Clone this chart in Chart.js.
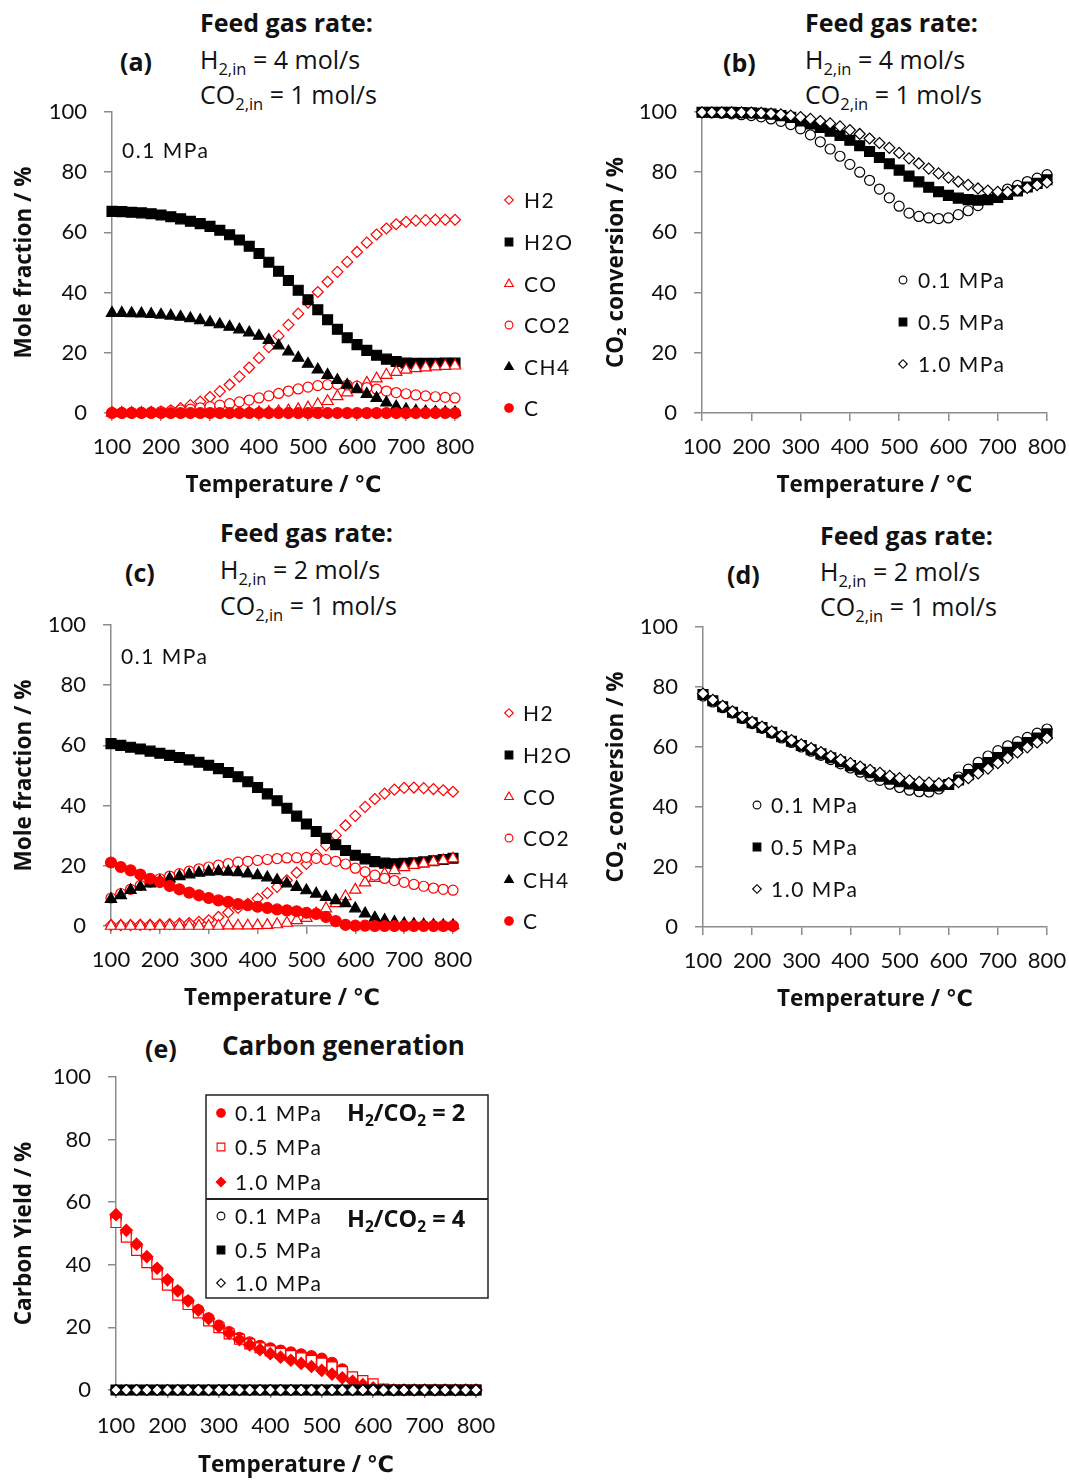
<!DOCTYPE html>
<html>
<head>
<meta charset="utf-8">
<script src="https://cdn.jsdelivr.net/npm/chart.js@4.4.0/dist/chart.umd.min.js"></script>
<style>
  body { margin: 0; background: #fff; width: 1069px; height: 1481px; position: relative; overflow: hidden;
         font-family: "Open Sans", "DejaVu Sans", sans-serif; color: #111; }
  .box { position: absolute; }
  .t { position: absolute; white-space: nowrap; font-size: 25px; line-height: 28px; }
  .b { font-weight: bold; font-size: 25px; }
  .s { font-size: 16.5px; position: relative; top: 6px; }
  .big { font-size: 26px; }
  .lg { font-size: 23.5px; }
  .lg .s { font-size: 15.5px; top: 5px; }
</style>
</head>
<body>

<div class="t b" style="left:200px;top:8px">Feed gas rate:</div>
<div class="t b" style="left:120px;top:47px">(a)</div>
<div class="t" style="left:200px;top:45px">H<span class="s">2,in</span> = 4 mol/s</div>
<div class="t" style="left:200px;top:80px">CO<span class="s">2,in</span> = 1 mol/s</div>

<div class="t b" style="left:805px;top:8px">Feed gas rate:</div>
<div class="t b" style="left:723px;top:48px">(b)</div>
<div class="t" style="left:805px;top:45px">H<span class="s">2,in</span> = 4 mol/s</div>
<div class="t" style="left:805px;top:80px">CO<span class="s">2,in</span> = 1 mol/s</div>

<div class="t b" style="left:220px;top:518px">Feed gas rate:</div>
<div class="t b" style="left:125px;top:558px">(c)</div>
<div class="t" style="left:220px;top:555px">H<span class="s">2,in</span> = 2 mol/s</div>
<div class="t" style="left:220px;top:591px">CO<span class="s">2,in</span> = 1 mol/s</div>

<div class="t b" style="left:820px;top:521px">Feed gas rate:</div>
<div class="t b" style="left:727px;top:560px">(d)</div>
<div class="t" style="left:820px;top:557px">H<span class="s">2,in</span> = 2 mol/s</div>
<div class="t" style="left:820px;top:592px">CO<span class="s">2,in</span> = 1 mol/s</div>

<div class="t b" style="left:145px;top:1034px">(e)</div>
<div class="t b big" style="left:222px;top:1031px">Carbon generation</div>

<script>
// temperature grid (°C)
const temps = [100,120,140,160,180,200,220,240,260,280,300,320,340,360,380,400,420,440,
               460,480,500,520,540,560,580,600,620,640,660,680,700,720,740,760,780,800];

// (a) mole fraction, H2/CO2 = 4, 0.1 MPa
const speciesLabels = ['H2','H2O','CO','CO2','CH4','C'];
const a_H2  = [0.1,0.1,0.1,0.1,0.3,0.5,0.9,1.6,2.6,3.8,5.3,7.2,9.4,12.1,15.1,18.3,21.9,25.6,
               29.3,33.0,36.7,40.2,43.6,46.9,50.2,53.5,56.6,59.3,61.3,62.7,63.5,63.9,64.1,64.2,64.2,64.2];
const a_H2O = [67.0,66.9,66.7,66.5,66.2,65.8,65.2,64.5,63.7,62.9,62.0,60.7,59.2,57.5,55.4,53.0,50.1,47.1,
               44.0,40.8,37.6,34.3,31.0,27.8,25.0,22.7,20.8,19.2,17.9,17.1,16.6,16.5,16.5,16.5,16.6,16.6];
const a_CO  = [0,0,0,0,0,0,0,0,0,0,0,0,0,0.1,0.1,0.2,0.3,0.5,
               0.8,1.2,1.8,2.8,3.9,5.5,6.8,8.6,10.0,11.4,12.6,13.6,14.3,14.8,15.1,15.4,15.6,15.7];
const a_CO2 = [0.1,0.1,0.1,0.2,0.3,0.5,0.7,1.0,1.3,1.7,2.1,2.6,3.1,3.7,4.3,5.0,5.7,6.5,
               7.3,8.0,8.6,9.1,9.4,9.5,9.3,8.9,8.4,7.9,7.3,6.8,6.4,6.0,5.7,5.4,5.2,5.0];
const a_CH4 = [33.2,33.2,33.1,33.0,32.8,32.6,32.3,31.9,31.4,30.8,30.1,29.4,28.6,27.7,26.7,25.6,24.2,22.4,
               20.4,18.3,16.3,14.4,12.6,10.9,9.3,7.8,6.3,4.9,3.4,2.1,1.2,0.7,0.4,0.3,0.2,0.2];
const a_C   = [0,0,0,0,0,0,0,0,0,0,0,0,0,0,0,0,0,0,
               0,0,0,0,0,0,0,0,0,0,0,0,0,0,0,0,0,0];

// (b) CO2 conversion, H2/CO2 = 4
const pressureLabels = ['0.1 MPa','0.5 MPa','1.0 MPa'];
const b_01 = [99.8,99.7,99.6,99.4,99.1,98.8,98.4,97.7,96.9,95.8,94.4,92.4,90.1,87.7,85.3,82.6,80.0,77.3,
              74.4,71.5,68.7,66.4,65.3,64.8,64.6,64.8,65.9,67.2,68.9,70.9,72.8,74.4,75.6,76.9,78.0,79.2];
const b_05 = [99.9,99.9,99.9,99.9,99.8,99.7,99.6,99.3,98.8,98.2,97.0,96.0,94.9,93.6,92.2,90.6,88.8,86.9,
              84.9,82.8,80.7,78.7,76.8,75.0,73.5,72.3,71.4,70.9,70.7,70.9,71.6,72.6,73.8,75.1,76.3,77.5];
const b_10 = [99.9,99.9,99.9,99.9,99.9,99.8,99.7,99.5,99.2,98.8,98.3,97.7,97.0,96.2,95.2,94.0,92.7,91.2,
              89.7,88.1,86.4,84.6,82.9,81.2,79.6,78.2,76.9,75.8,74.6,73.9,73.5,73.4,74.0,74.8,75.7,76.6];

// (c) mole fraction, H2/CO2 = 2, 0.1 MPa
const c_H2  = [0.3,0.3,0.3,0.4,0.4,0.5,0.6,0.8,1.0,1.4,1.9,3.0,4.5,6.0,7.4,9.1,10.9,13.0,
               15.2,17.7,20.6,23.7,26.8,30.1,33.4,36.6,39.6,42.2,44.0,45.3,45.9,46.0,45.8,45.5,45.1,44.6];
const c_H2O = [60.6,60.0,59.4,58.8,58.1,57.4,56.7,56.0,55.2,54.4,53.4,52.3,51.0,49.6,47.9,46.0,43.9,41.6,
               39.1,36.5,33.9,31.4,29.1,27.0,25.1,23.5,22.3,21.4,20.9,20.7,20.8,21.0,21.3,21.7,22.1,22.5];
const c_CO  = [0,0,0,0,0,0,0,0,0,0,0,0,0.1,0.1,0.1,0.2,0.3,0.5,
               1.0,1.9,2.6,4.1,5.8,7.5,9.8,12.0,14.4,15.9,17.3,18.5,19.5,20.2,20.7,21.3,21.8,22.4];
const c_CO2 = [9.3,10.8,12.2,13.5,14.6,15.7,16.6,17.4,18.2,19.0,19.6,20.2,20.7,21.2,21.5,21.8,22.1,22.4,
               22.6,22.7,22.8,22.5,22.1,21.5,20.6,19.2,18.0,16.9,15.8,15.1,14.5,13.8,13.2,12.6,12.2,11.9];
const c_CH4 = [8.9,10.2,11.9,13.0,14.1,14.9,15.7,16.5,17.1,17.6,18.0,18.1,18.0,17.8,17.4,16.8,16.1,15.2,
               14.1,12.9,11.8,10.7,9.6,8.5,7.5,5.8,4.1,2.7,1.9,1.3,0.8,0.6,0.4,0.3,0.2,0.2];
const c_C   = [21.1,19.6,18.5,17.1,15.7,14.6,13.3,12.2,11.1,10.2,9.3,8.5,8.0,7.3,6.9,6.4,6.0,5.5,
               5.2,4.9,4.4,4.0,3.0,1.6,0.4,0.1,0.1,0,0,0,0,0,0,0,0,0];

// (d) CO2 conversion, H2/CO2 = 2
const d_01 = [77.0,75.0,73.1,71.3,69.5,67.8,66.2,64.6,63.0,61.5,60.0,58.6,57.2,55.8,54.4,53.0,51.6,50.2,
              48.9,47.6,46.5,45.6,45.1,45.0,46.0,47.8,50.0,52.6,54.9,57.0,58.8,60.4,61.8,63.2,64.6,66.0];
const d_05 = [77.5,75.4,73.4,71.6,69.8,68.1,66.5,64.9,63.4,61.9,60.5,59.1,57.7,56.4,55.1,53.8,52.6,51.4,
              50.3,49.3,48.4,47.7,47.2,46.9,47.0,47.5,49.0,50.8,52.8,54.8,56.5,58.2,59.9,61.5,63.0,64.4];
const d_10 = [77.8,75.7,73.7,71.9,70.1,68.4,66.8,65.2,63.7,62.3,60.9,59.6,58.3,57.0,55.8,54.6,53.5,52.4,
              51.4,50.4,49.6,48.9,48.4,48.1,47.9,48.0,48.3,49.6,51.2,52.8,54.6,56.4,58.2,59.9,61.5,63.0];

// (e) carbon yield
const e2_01 = [55.0,50.2,45.9,42.0,38.3,34.7,31.4,28.3,25.5,22.9,20.6,18.5,16.7,15.2,14.1,13.3,12.6,12.0,
               11.4,10.8,10.0,8.7,6.6,3.9,1.8,0.4,0,0,0,0,0,0,0,0,0,0];
const e2_05 = [53.5,48.8,44.6,40.7,37.0,33.5,30.3,27.3,24.6,22.1,19.9,17.9,16.2,14.7,13.5,12.5,11.7,11.0,
               10.3,9.5,8.6,7.4,5.9,4.2,3.0,2.0,0.3,0,0,0,0,0,0,0,0,0];
const e2_10 = [56.0,51.0,46.6,42.6,38.9,35.2,31.7,28.5,25.5,22.8,20.3,18.1,16.1,14.4,12.9,11.6,10.5,9.5,
               8.5,7.5,6.3,5.1,3.9,2.8,1.7,0.7,0,0,0,0,0,0,0,0,0,0];
const e4_01 = [0,0,0,0,0,0,0,0,0,0,0,0,0,0,0,0,0,0,0,0,0,0,0,0,0,0,0,0,0,0,0,0,0,0,0,0];
const e4_05 = [0,0,0,0,0,0,0,0,0,0,0,0,0,0,0,0,0,0,0,0,0,0,0,0,0,0,0,0,0,0,0,0,0,0,0,0];
const e4_10 = [0,0,0,0,0,0,0,0,0,0,0,0,0,0,0,0,0,0,0,0,0,0,0,0,0,0,0,0,0,0,0,0,0,0,0,0];

const RED = '#ff0000', BLK = '#000000', WHITE = '#ffffff', AXIS = '#8c8c8c';
const FONT = 'Lato, "DejaVu Sans", sans-serif';
const TFONT = '"Open Sans", "DejaVu Sans", sans-serif';

// marker styles: shape, radius, fill, edge
const openDiamond = (c) => ({shape: 'rectRot', r: 5.5, fill: WHITE, edge: c});
const fillSquare  = (c) => ({shape: 'rect', r: 7, fill: c, edge: c});
const openSquare  = (c) => ({shape: 'rect', r: 7, fill: WHITE, edge: c});
const openTri     = (c) => ({shape: 'triangle', r: 6.5, fill: WHITE, edge: c});
const fillTri     = (c) => ({shape: 'triangle', r: 6.5, fill: c, edge: c});
const openCircle  = (c) => ({shape: 'circle', r: 5, fill: WHITE, edge: c});
const fillCircle  = (c) => ({shape: 'circle', r: 5.5, fill: c, edge: c});
const fillDiamond = (c) => ({shape: 'rectRot', r: 6, fill: c, edge: c});

function series(label, values, st) {
    return {
        label: label,
        data: values.map((v, i) => ({x: temps[i], y: v})),
        showLine: false,
        clip: false,
        pointStyle: st.shape,
        pointRadius: st.r,
        pointHoverRadius: st.r,
        pointBackgroundColor: st.fill,
        pointBorderColor: st.edge,
        pointBorderWidth: 1.2
    };
}

function drawExtras(chart, p) {
    const ctx = chart.ctx;
    const [ox, oy] = p.canvas;
    ctx.save();
    ctx.font = '21px ' + FONT;
    ctx.letterSpacing = '1.5px';
    ctx.textBaseline = 'middle';
    const lg = p.legend;
    if (lg.box) {
        const b = lg.box;
        ctx.strokeStyle = '#222';
        ctx.lineWidth = 1.5;
        ctx.strokeRect(b[0] - ox, b[1] - oy, b[2] - b[0], b[3] - b[1]);
        ctx.beginPath();
        ctx.moveTo(b[0] - ox, b[4] - oy);
        ctx.lineTo(b[2] - ox, b[4] - oy);
        ctx.lineWidth = 2;
        ctx.stroke();
    }
    lg.rows.forEach((y, i) => {
        const ds = chart.data.datasets[i];
        ctx.fillStyle = ds.pointBackgroundColor;
        ctx.strokeStyle = ds.pointBorderColor;
        ctx.lineWidth = 1.1;
        Chart.helpers.drawPoint(ctx, {pointStyle: ds.pointStyle, radius: ds.pointRadius * 0.78,
                                      rotation: 0, borderWidth: 1.1}, lg.x - ox, y - oy);
        ctx.fillStyle = '#111';
        ctx.fillText(ds.label, lg.x + lg.gap - ox, y - oy + 1);
    });
    (p.notes || []).forEach(n => {
        ctx.fillStyle = '#111';
        ctx.fillText(n.t, n.x - ox, n.y - oy);
    });
    ctx.restore();
}

function makePanel(p) {
    const titleSize = 22.5;
    const lh = titleSize * 1.2;
    const [cx, cy, cw, ch] = p.canvas;
    const [pl, pt, pr, pb] = p.plot;
    const div = document.createElement('div');
    div.className = 'box';
    div.style.left = cx + 'px';
    div.style.top = cy + 'px';
    div.style.width = cw + 'px';
    div.style.height = ch + 'px';
    const cv = document.createElement('canvas');
    div.appendChild(cv);
    document.body.appendChild(div);

    const yLeft = p.ytx - lh / 2;
    const xBottom = p.xty + lh / 2;
    const yW = pl - yLeft;
    const xH = xBottom - pb;
    p.datasets.forEach((d, i) => { d.order = -i; });  // later series drawn on top, like the original

    const tickFont = {family: FONT, size: 22};
    const titleFont = {family: TFONT, size: titleSize, weight: 'bold'};
    new Chart(cv, {
        type: 'scatter',
        data: {datasets: p.datasets},
        options: {
            responsive: true,
            maintainAspectRatio: false,
            animation: false,
            layout: {padding: {left: yLeft - cx, top: pt - cy, right: cx + cw - pr, bottom: cy + ch - xBottom}},
            plugins: {legend: {display: false}, tooltip: {enabled: false}},
            scales: {
                x: {
                    type: 'linear', min: 100, max: 800,
                    ticks: {stepSize: 100, padding: p.xPad, color: '#111', font: tickFont,
                            autoSkip: false, maxRotation: 0, minRotation: 0},
                    grid: {drawOnChartArea: false, tickLength: 8, color: AXIS, lineWidth: 1.5},
                    border: {color: AXIS, width: 1.5},
                    title: {display: true, text: 'Temperature / ℃', padding: 0, color: '#111', font: titleFont},
                    afterFit: s => { s.height = xH; s.paddingLeft = 0; s.paddingRight = 0; }
                },
                y: {
                    min: 0, max: 100,
                    ticks: {stepSize: 20, padding: 17, color: '#111', font: tickFont},
                    grid: {drawOnChartArea: false, tickLength: 8, color: AXIS, lineWidth: 1.5},
                    border: {color: AXIS, width: 1.5},
                    title: {display: true, text: p.yTitle, padding: 0, color: '#111', font: titleFont},
                    afterFit: s => { s.width = yW; s.paddingTop = 0; s.paddingBottom = 0; }
                }
            }
        },
        plugins: [{id: 'extras', afterDraw: chart => drawExtras(chart, p)}]
    });
}

const speciesA = [a_H2, a_H2O, a_CO, a_CO2, a_CH4, a_C];
const speciesC = [c_H2, c_H2O, c_CO, c_CO2, c_CH4, c_C];
const speciesStyles = [openDiamond(RED), fillSquare(BLK), openTri(RED), openCircle(RED), fillTri(BLK), fillCircle(RED)];
const pressStyles = [openCircle(BLK), fillSquare(BLK), openDiamond(BLK)];

makePanel({
    canvas: [0, 90, 600, 420], plot: [112, 112, 455, 413], ytx: 25, xty: 486, xPad: 13,
    yTitle: 'Mole fraction / %',
    datasets: speciesA.map((v, i) => series(speciesLabels[i], v, speciesStyles[i])),
    legend: {x: 509, gap: 15, rows: [200, 242, 284, 325, 367, 408]},
    notes: [{t: '0.1 MPa', x: 122, y: 151}]
});

makePanel({
    canvas: [590, 90, 479, 420], plot: [702, 112, 1047, 413], ytx: 617, xty: 486, xPad: 13,
    yTitle: 'CO₂ conversion / %',
    datasets: [b_01, b_05, b_10].map((v, i) => series(pressureLabels[i], v, pressStyles[i])),
    legend: {x: 903, gap: 15, rows: [280, 322, 364]}
});

makePanel({
    canvas: [0, 600, 600, 420], plot: [111, 625, 453, 926], ytx: 25, xty: 999, xPad: 13,
    yTitle: 'Mole fraction / %',
    datasets: speciesC.map((v, i) => series(speciesLabels[i], v, speciesStyles[i])),
    legend: {x: 509, gap: 14, rows: [713, 755, 797, 838, 880, 921]},
    notes: [{t: '0.1 MPa', x: 121, y: 657}]
});

makePanel({
    canvas: [590, 600, 479, 420], plot: [703, 627, 1047, 927], ytx: 617, xty: 1000, xPad: 13,
    yTitle: 'CO₂ conversion / %',
    datasets: [d_01, d_05, d_10].map((v, i) => series(pressureLabels[i], v, pressStyles[i])),
    legend: {x: 757, gap: 14, rows: [805, 847, 889]}
});

const carbonStyles = [fillCircle(RED), openSquare(RED), fillDiamond(RED), openCircle(BLK), fillSquare(BLK), openDiamond(BLK)];
makePanel({
    canvas: [0, 1055, 600, 426], plot: [116, 1077, 476, 1390], ytx: 25, xty: 1466, xPad: 15,
    yTitle: 'Carbon Yield / %',
    datasets: [e2_01, e2_05, e2_10, e4_01, e4_05, e4_10].map((v, i) => series(pressureLabels[i % 3], v, carbonStyles[i])),
    legend: {x: 221, gap: 14, rows: [1113, 1147, 1182, 1216, 1250, 1283], box: [206, 1095, 488, 1298, 1199]}
});
</script>

<div class="t b lg" style="left:347px;top:1098px;z-index:2">H<span class="s">2</span>/CO<span class="s">2</span> = 2</div>
<div class="t b lg" style="left:347px;top:1204px;z-index:2">H<span class="s">2</span>/CO<span class="s">2</span> = 4</div>
</body>
</html>
